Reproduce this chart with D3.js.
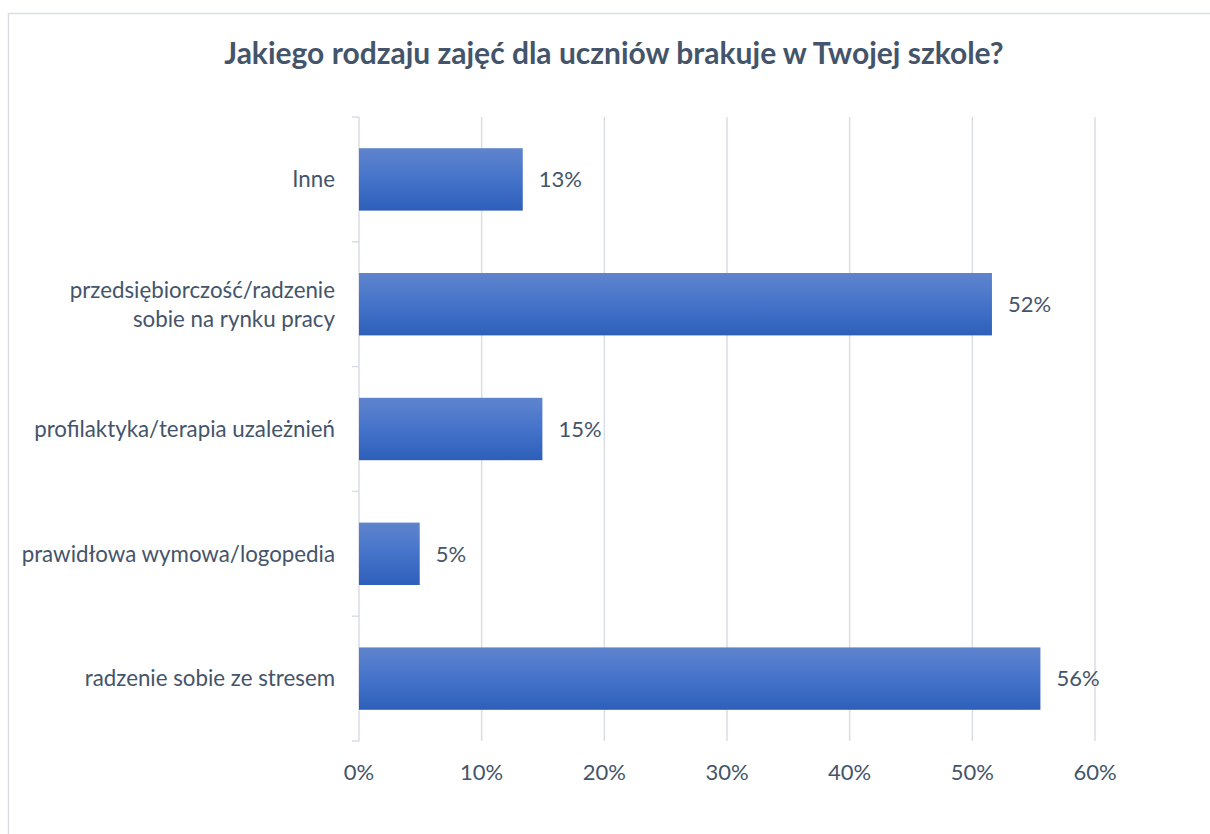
<!DOCTYPE html>
<html>
<head>
<meta charset="utf-8">
<script src="https://cdn.jsdelivr.net/npm/d3@7"></script>
<style>
  html, body { margin: 0; padding: 0; background: #fff; }
  svg { display: block; }
</style>
</head>
<body>
<div id="chart"></div>
<script>
// data
const categories = ["Inne", "przedsiębiorczość/radzenie sobie na rynku pracy", "profilaktyka/terapia uzależnień", "prawidłowa wymowa/logopedia", "radzenie sobie ze stresem"];
const values = [13.35, 51.6, 14.95, 4.95, 55.55];
const valueLabels = ["13%", "52%", "15%", "5%", "56%"];
const xTicks = [0, 10, 20, 30, 40, 50, 60];
const title = "Jakiego rodzaju zajęć dla uczniów brakuje w Twojej szkole?";

const width = 1210, height = 834;
const margin = {top: 117, right: 115, bottom: 93, left: 359};
const textColor = "#44546A";
const gridColor = "#D9DEE6";
const font = "Lato, 'Open Sans', sans-serif";

const svg = d3.select("#chart")
  .append("svg")
  .attr("width", width)
  .attr("height", height);

// gradient for bars
const grad = svg.append("defs").append("linearGradient")
  .attr("id", "barGrad")
  .attr("x1", 0).attr("y1", 0).attr("x2", 0).attr("y2", 1);
grad.append("stop").attr("offset", "0%").attr("stop-color", "#5F84CD");
grad.append("stop").attr("offset", "50%").attr("stop-color", "#4573CA");
grad.append("stop").attr("offset", "100%").attr("stop-color", "#2D5FBA");

// chart frame
svg.append("rect")
  .attr("x", 8.5).attr("y", 13.5)
  .attr("width", 1230).attr("height", 850)
  .attr("fill", "none")
  .attr("stroke", "#D9DDE3")
  .attr("stroke-width", 1.5);

// title
svg.append("text")
  .attr("x", 614)
  .attr("y", 64)
  .attr("text-anchor", "middle")
  .style("font-family", font)
  .style("font-weight", "bold")
  .style("font-size", "30px")
  .attr("fill", textColor)
  .text(title);

//scales
const x = d3.scaleLinear()
  .domain([0, 60])
  .range([margin.left, width - margin.right]);

const y = d3.scaleBand()
  .domain(categories)
  .range([margin.top, height - margin.bottom])
  .paddingInner(0.5)
  .paddingOuter(0.25);

// gridlines
svg.append("g")
  .selectAll("line")
  .data(xTicks.slice(1))
  .join("line")
  .attr("x1", d => x(d)).attr("x2", d => x(d))
  .attr("y1", margin.top).attr("y2", height - margin.bottom)
  .attr("stroke", gridColor)
  .attr("stroke-width", 1.5);

// y axis line + ticks at category boundaries
const yAxis = svg.append("g");
yAxis.append("line")
  .attr("x1", x(0)).attr("x2", x(0))
  .attr("y1", margin.top).attr("y2", height - margin.bottom)
  .attr("stroke", gridColor)
  .attr("stroke-width", 1.5);

const boundaries = d3.range(categories.length + 1).map(i => margin.top + i * (height - margin.top - margin.bottom) / categories.length);
yAxis.selectAll("line.tick")
  .data(boundaries)
  .join("line")
  .attr("class", "tick")
  .attr("x1", x(0) - 7).attr("x2", x(0))
  .attr("y1", d => d).attr("y2", d => d)
  .attr("stroke", gridColor)
  .attr("stroke-width", 1.5);

// category labels
const catLabels = svg.append("g")
  .selectAll("text")
  .data(categories)
  .join("text")
  .attr("x", x(0) - 24)
  .attr("text-anchor", "end")
  .style("font-family", font)
  .style("font-size", "22.3px")
  .attr("fill", textColor);

catLabels.each(function(d) {
  const t = d3.select(this);
  const cy = y(d) + y.bandwidth() / 2;
  let lines = [d];
  if (d.indexOf("przedsiębiorczość") === 0) lines = ["przedsiębiorczość/radzenie", "sobie na rynku pracy"];
  const lh = 29;
  lines.forEach(function(l, i) {
    t.append("tspan")
      .attr("x", x(0) - 24)
      .attr("y", cy + (i - (lines.length - 1) / 2) * lh)
      .attr("dy", "0.35em")
      .text(l);
  });
});

// bars
svg.append("g")
  .selectAll("rect")
  .data(values)
  .join("rect")
  .attr("x", x(0))
  .attr("y", (d, i) => y(categories[i]))
  .attr("width", d => x(d) - x(0))
  .attr("height", y.bandwidth())
  .attr("fill", "url(#barGrad)");

// value labels
svg.append("g")
  .selectAll("text")
  .data(values)
  .join("text")
  .attr("x", d => x(d) + 16)
  .attr("y", (d, i) => y(categories[i]) + y.bandwidth() / 2)
  .attr("dy", "0.35em")
  .style("font-family", font)
  .style("font-size", "22px")
  .attr("fill", textColor)
  .text((d, i) => valueLabels[i]);

// x tick labels
svg.append("g")
  .selectAll("text")
  .data(xTicks)
  .join("text")
  .attr("x", d => x(d))
  .attr("y", height - margin.bottom + 31)
  .attr("dy", "0.35em")
  .attr("text-anchor", "middle")
  .style("font-family", font)
  .style("font-size", "22px")
  .attr("fill", textColor)
  .text(d => d + "%");
</script>
</body>
</html>
